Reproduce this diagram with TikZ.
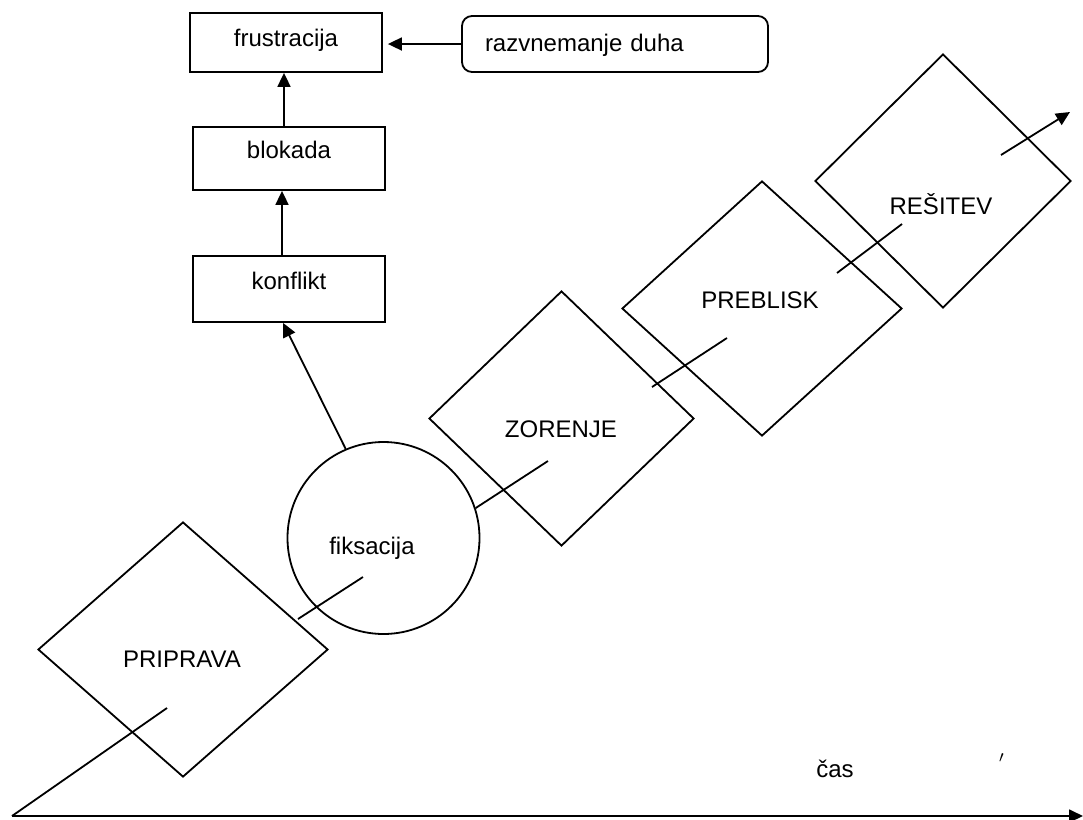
\documentclass[tikz,border=0pt]{standalone}
\usepackage{fontspec}
\setmainfont{Liberation Sans}
\usetikzlibrary{shapes.geometric,arrows.meta}

\tikzset{
	box/.style={draw, rectangle, minimum width=96pt, inner sep=0pt, text height=6pt, text depth=6pt},
	faza/.style={draw, diamond, inner sep=0pt},
	lbl/.style={anchor=base, inner sep=0pt},
	arr/.style={-{Triangle[length=7pt,width=6.5pt]}},
}

\begin{document}
\begin{tikzpicture}[x=0.5pt,y=-0.5pt,line width=0.9pt,font=\fontsize{12}{14.4}\selectfont]
	\useasboundingbox (0,0) rectangle (1083,820);
	
	% stranska veja
	\node[box, minimum height=29.5pt, text height=8pt, text depth=4pt] (frust) at (286,42.5) {frustracija};
	\node[draw, rounded corners=5pt, minimum width=153pt, minimum height=28pt, text width=130pt, align=left,
	inner xsep=11.5pt, inner ysep=0pt, text height=9pt, text depth=1.5pt] (razv) at (615,44) {razvnemanje duha};
	\node[box, minimum height=31.5pt] (blok) at (289,158.5) {blokada};
	\node[box, minimum height=33pt] (konf) at (289,289) {konflikt};
	
	\draw[arr, shorten >=2.5pt] (razv.west) -- (razv.west -| frust.east);
	\draw[arr] ([xshift=-2.5pt]blok.north) -- ([xshift=-2.5pt]blok.north |- frust.south);
	\draw[arr] ([xshift=-3.5pt]konf.north) -- ([xshift=-3.5pt]konf.north |- blok.south);
	
	% faze
	\node[faza, minimum width=145pt, minimum height=127.5pt] (pripr) at (183,649.5) {};
	\node[draw, circle, minimum size=96pt, inner sep=0pt] (fiks) at (383.5,538) {};
	\node[faza, minimum width=132.5pt, minimum height=127.5pt] (zor) at (561.5,418.5) {};
	\node[faza, minimum width=140pt, minimum height=127.5pt] (prebl) at (762,308.5) {};
	\node[faza, minimum width=128pt, minimum height=127pt] (resit) at (943,181) {};
	
	\node[lbl] (priprT) at (182,667.7) {PRIPRAVA};
	\node[lbl] (fiksT) at (372,554.5) {fiksacija};
	\node[lbl] (zorT) at (561,437.3) {ZORENJE};
	\node[lbl] (preblT) at (760,308.3) {PREBLISK};
	\node[lbl] (resitT) at (941,214) {REŠITEV};
	
	\draw[arr] (fiks.113) -- (konf.-100);
	
	% os
	\coordinate (o) at (12,816);
	\coordinate (kraj) at (1083,816);
	\draw[arr] (o) -- (kraj);
	\node[lbl] (cas) at (835,777.3) {čas};
	\node[inner sep=0pt] (crtica) at (1002,762) {$'$};
	
	\coordinate (c1) at (167,708);
	\coordinate (c2a) at (298,619);
	\coordinate (c2b) at (363,577);
	\coordinate (c3) at (548,461);
	\coordinate (c4a) at (652,387);
	\coordinate (c4b) at (727,338);
	\coordinate (c5a) at (837,273);
	\coordinate (c5b) at (902,224);
	\coordinate (c6a) at (1001,155);
	\coordinate (c6b) at (1070,112);
	
	\draw (o) -- (c1);
	\draw (fiks.18) -- (c3);
	\foreach \a/\b in {c2a/c2b, c4a/c4b, c5a/c5b}
	\draw (\a) -- (\b);
	\draw[arr] (c6a) -- (c6b);
	
\end{tikzpicture}
\end{document}
